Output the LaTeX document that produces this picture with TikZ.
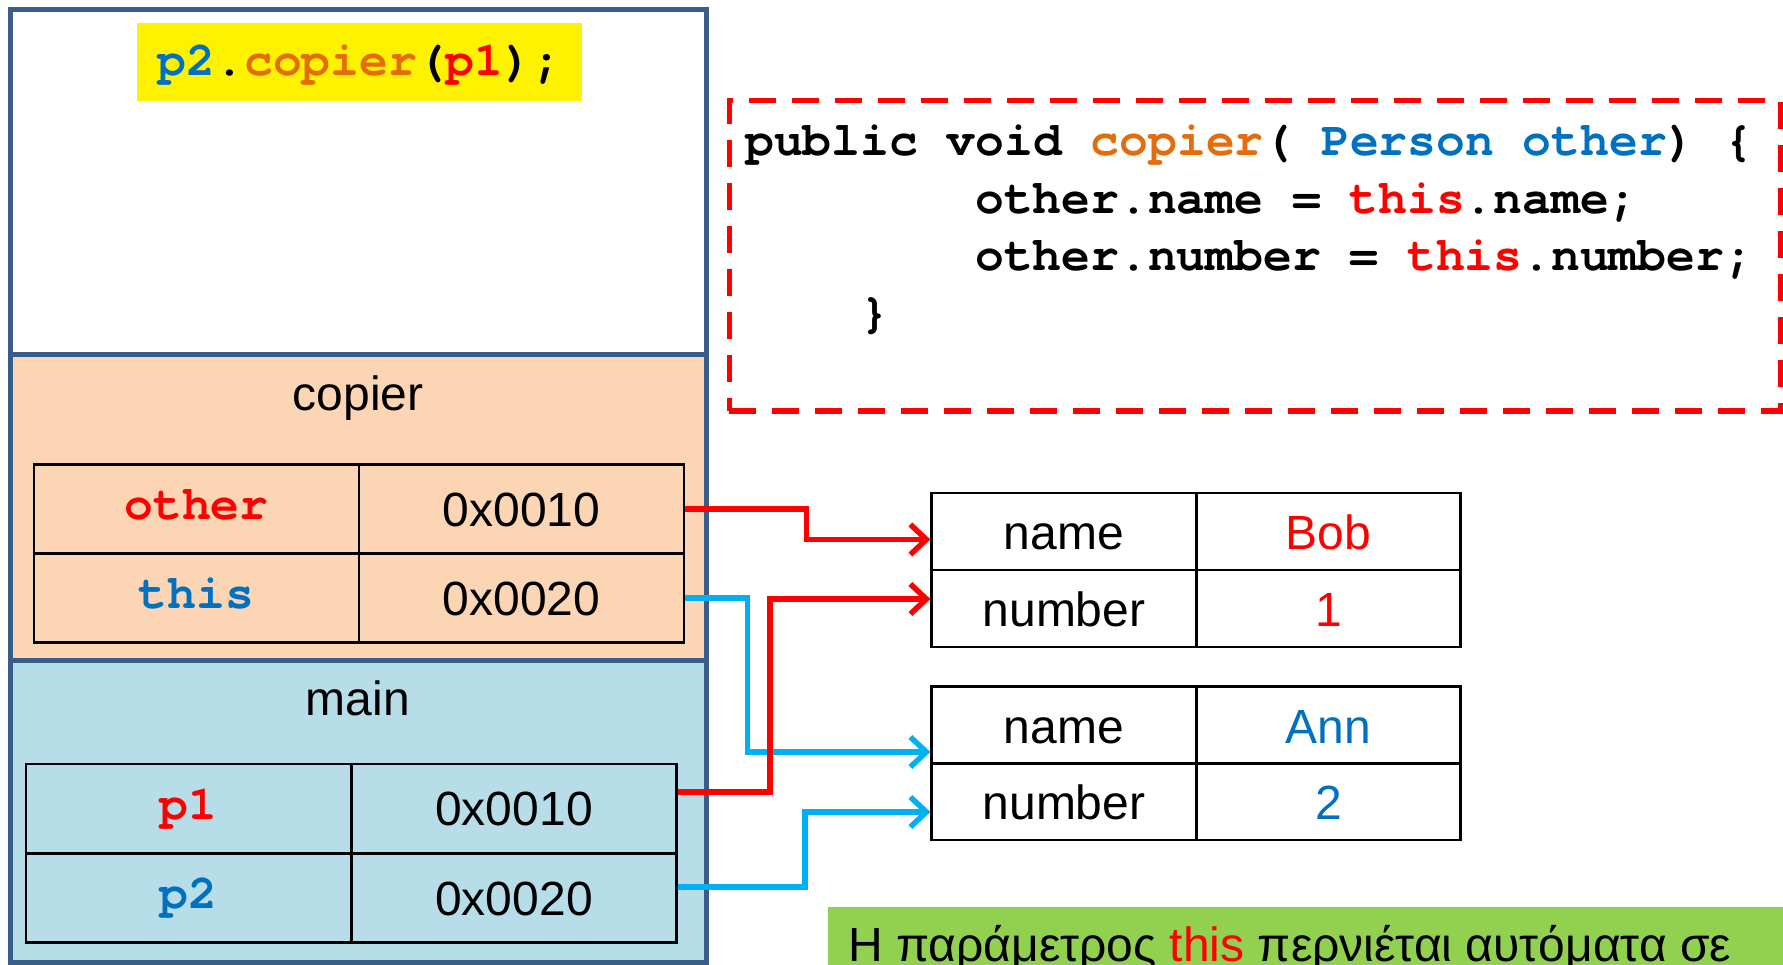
\documentclass[tikz,border=0pt]{standalone}
\usepackage{fontspec}
\setmainfont{Liberation Sans}
\newfontfamily\codefont{TeX Gyre Cursor}
\usetikzlibrary{arrows.meta}
\definecolor{frameblue}{RGB}{56,93,138}
\definecolor{peach}{RGB}{252,213,181}
\definecolor{aqua}{RGB}{183,222,232}
\definecolor{codeorange}{RGB}{228,108,10}
\definecolor{codeblue}{RGB}{0,112,192}
\definecolor{codered}{RGB}{255,0,0}
\definecolor{arrowblue}{RGB}{0,176,240}
\definecolor{notegreen}{RGB}{146,208,80}
\newcommand{\txtsize}{\fontsize{48}{57}\selectfont}
\begin{document}
\begin{tikzpicture}[x=1pt,y=-1pt,
  stackbox/.style={draw=frameblue, line width=5pt, minimum width=696pt, inner sep=0pt},
  cellbase/.style={draw=black, line width=2.7pt, inner sep=0pt},
  namecell/.style={cellbase, minimum width=325pt, minimum height=89pt, font=\codefont\bfseries\txtsize, text height=26pt, text depth=5pt},
  valcell/.style={cellbase, minimum width=325pt, minimum height=89pt, font=\txtsize, text height=34pt, text depth=0pt},
  heapcell/.style={cellbase, minimum width=264.5pt, minimum height=77pt, font=\txtsize, text height=36pt, text depth=0pt},
  codeline/.style={anchor=base west, inner sep=0pt, font=\codefont\bfseries\txtsize},
  lbl/.style={anchor=base, inner sep=0pt, font=\txtsize},
  conn/.style={line width=5.5pt, -{Straight Barb[length=16pt,width=30pt]}},
  redconn/.style={conn, draw=codered},
  blueconn/.style={conn, draw=arrowblue}]
\useasboundingbox (0,0) rectangle (1783,965);
\clip (0,0) rectangle (1783,965);

% stack frames
\node[stackbox, fill=white, minimum height=345pt] (callframe) at (358,182.5) {};
\node[stackbox, fill=peach, minimum height=305pt] (copierframe) at (358,507.5) {};
\node[stackbox, fill=aqua, minimum height=302pt] (mainframe) at (358,811) {};

% call
\node[fill=yellow, minimum width=445pt, minimum height=78pt, inner sep=0pt,
      font=\codefont\bfseries\txtsize, text height=32pt, text depth=4pt] (call) at (359.5,62)
  {\textcolor{codeblue}{p2}.\textcolor{codeorange}{copier}(\textcolor{codered}{p1});};

% frame labels
\node[lbl] (copierlbl) at (358,410) {copier};
\node[lbl] (mainlbl) at (358,715) {main};

% copier table
\node[namecell] (on) at (196.5,509) {\textcolor{codered}{other}};
\node[valcell] (ov) at (521.5,509) {0x0010};
\node[namecell] (tn) at (196.5,598) {\textcolor{codeblue}{this}};
\node[valcell] (tv) at (521.5,598) {0x0020};

% main table
\node[namecell] (p1n) at (188.5,808.5) {\textcolor{codered}{p1}};
\node[valcell] (p1v) at (514,808.5) {0x0010};
\node[namecell] (p2n) at (188.5,898) {\textcolor{codeblue}{p2}};
\node[valcell] (p2v) at (514,898) {0x0020};

% heap object 1
\node[heapcell] (bn) at (1064,531.5) {name};
\node[heapcell] (bv) at (1328.5,531.5) {\textcolor{codered}{Bob}};
\node[heapcell] (bnum) at (1064,608.5) {number};
\node[heapcell] (bnumv) at (1328.5,608.5) {\textcolor{codered}{1}};

% heap object 2
\node[heapcell] (an) at (1064,725) {name};
\node[heapcell] (av) at (1328.5,725) {\textcolor{codeblue}{Ann}};
\node[heapcell] (anum) at (1064,801.5) {number};
\node[heapcell] (anumv) at (1328.5,801.5) {\textcolor{codeblue}{2}};

% code box
\node[draw=codered, line width=5pt, dash pattern=on 27pt off 16pt, minimum width=1051pt, minimum height=310pt, inner sep=0pt] (codebox) at (1254.5,256) {};
\node[codeline] (c1) at (745,156) {public void \textcolor{codeorange}{copier}( \textcolor{codeblue}{Person other}) \{};
\node[codeline] (c2) at (975,214) {other.name = \textcolor{codered}{this}.name;};
\node[codeline] (c3) at (975,271) {other.number = \textcolor{codered}{this}.number;};
\node[codeline] (c4) at (860,328) {\}};

% note
\node[fill=notegreen, minimum width=960pt, minimum height=70pt, anchor=north west, inner sep=0pt] (note) at (828,907) {};
\node[anchor=base west, inner sep=0pt, font=\txtsize] (notetext) at (848,961) {Η παράμετρος \textcolor{codered}{this} περνιέται αυτόματα σε};

% connectors
\draw[redconn] (ov.east) -- ++(121,0) |- ([yshift=-8pt]bn.west);
\draw[blueconn] (tv.east) -- ++(62,0) |- ([yshift=-27pt]an.west);
\draw[blueconn] ([yshift=11pt]p2v.east) -- ++(127,0) |- ([yshift=-10.5pt]anum.west);
\draw[redconn] ([yshift=16.5pt]p1v.east) -- ++(92,0) |- ([yshift=9.5pt]bnum.west);
\end{tikzpicture}
\end{document}
